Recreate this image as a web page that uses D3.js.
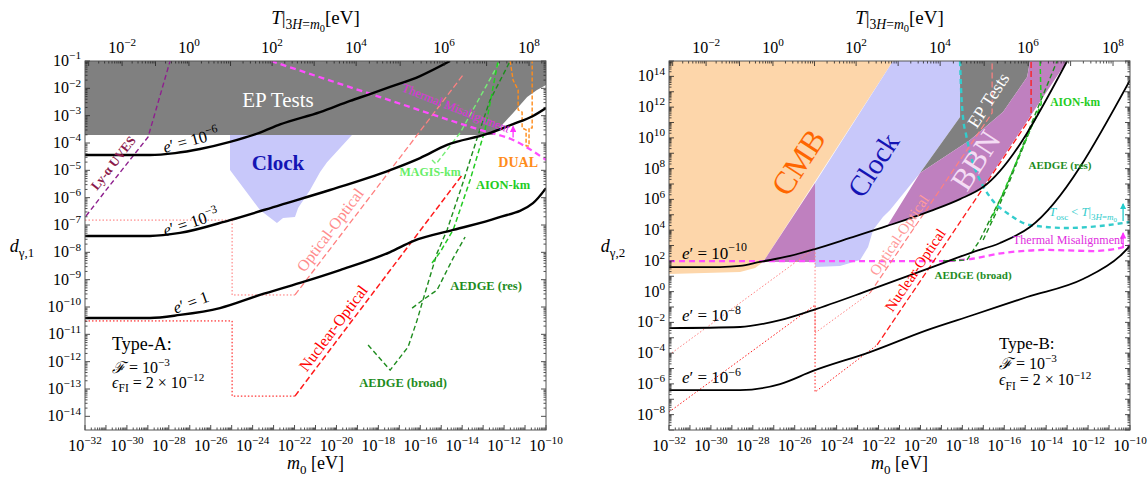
<!DOCTYPE html>
<html>
<head>
<meta charset="utf-8">
<script src="https://cdn.jsdelivr.net/npm/d3@7"></script>
<style>
  body { margin: 0; background: #fff; }
  text { font-family: "Liberation Serif", "DejaVu Serif", serif; }
</style>
</head>
<body>
<svg id="chart" width="1148" height="479"></svg>
<script>
// every point is [log10(m0 / eV), log10(d)]
const mTicks = d3.range(-32, -9);
const mLabels = d3.range(-32, -9, 2);
const topT = [-2, 0, 2, 4, 6, 8];                              // log10 T at labelled top ticks
const topM = [-30.23, -27.04, -23.07, -19.06, -14.86, -10.81]; // log10 m0 under those ticks

// ---- Type-A panel (d_gamma,1)
const aEP = [[-32,-1],[-10,-1],[-10,-1.88],[-10.43,-2.06],[-10.90,-2.32],[-11.57,-2.90],[-12.53,-3.71],[-32,-3.71]];
const aClock = [[-25.08,-3.71],[-19.26,-3.71],[-20.45,-4.70],[-20.78,-5.06],[-21.26,-5.72],[-21.83,-6.38],[-21.98,-6.71],[-22.55,-6.74],[-22.84,-6.93],[-23.65,-6.45],[-25.08,-4.99]];
const aE6 = [[-32,-4.44],[-28.90,-4.44],[-27.70,-4.37],[-26.51,-4.22],[-25.08,-3.96],[-23.65,-3.62],[-22.69,-3.32],[-20.78,-2.87],[-19.35,-2.46],[-18.40,-2.21],[-17.44,-1.95],[-16.01,-1.55],[-14.58,-1]];
const aE3 = [[-32,-7.40],[-28.90,-7.40],[-27.47,-7.29],[-25.08,-6.82],[-22.69,-6.27],[-20.31,-5.72],[-17.44,-4.99],[-16.01,-4.55],[-14.72,-4.07],[-12.81,-3.67],[-11.57,-3.31],[-10.62,-3.01],[-10,-2.72]];
const aE0 = [[-32,-10.40],[-28.90,-10.40],[-27.47,-10.29],[-25.56,-10.04],[-23.65,-9.56],[-21.74,-9.12],[-19.83,-8.65],[-17.44,-7.99],[-16.34,-7.59],[-14.43,-7.18],[-12.33,-6.74],[-10.62,-6.20],[-10,-5.65]];
const aLya = [[-31.95,-6.67],[-30.95,-5.68],[-28.99,-3.78],[-27.94,-1]];
const aThermal = [[-23.12,-1],[-17.92,-2.32],[-13.15,-3.52],[-11.57,-3.89],[-10,-4.62]];
const aOptDot = [[-32,-6.82],[-24.98,-6.82],[-24.98,-9.56],[-21.98,-9.56]];
const aOptDash = [[-21.98,-9.56],[-13.96,-1.51]];
const aNucDot = [[-32,-10.51],[-24.98,-10.51],[-24.98,-13.26],[-21.98,-13.26]];
const aNucDash = [[-21.98,-13.26],[-14.00,-5.17]];
const aMagis = [[-15.44,-4.62],[-15.25,-4.77],[-14.10,-3.63],[-12.19,-1]];
const aAion = [[-15.44,-8.39],[-15.05,-7.99],[-14.43,-7.18],[-13.62,-5.35],[-12.91,-3.52],[-12.29,-1]];
const aAedgeBroad = [[-18.49,-11.39],[-17.44,-12.31],[-16.58,-11.46],[-16.15,-10.48],[-15.87,-9.74],[-15.20,-8.03],[-14.72,-7.18],[-14.00,-5.54],[-13.24,-3.71],[-12.67,-2.43],[-11.71,-1]];
const aAedgeRes = [[-16.39,-10.04],[-15.87,-9.74],[-15.20,-9.38],[-14.43,-8.21],[-13.86,-7.44]];
const aDual = [[-11.71,-1],[-11.57,-1.70],[-11.33,-2.06],[-11.33,-2.79],[-11.14,-2.87],[-11.14,-3.45],[-10.95,-3.52],[-10.95,-4.11],[-10.81,-4.11],[-10.81,-3.45],[-10.66,-3.45],[-10.66,-1]];

// ---- Type-B panel (d_gamma,2)
const bCMB = [[-32,15],[-21.31,15],[-27.51,1.93],[-27.89,1.54],[-28.61,1.28],[-32,1.15]];
const bClock = [[-21.31,15],[-18.11,15],[-18.11,11.36],[-20.02,7.72],[-21.45,5.31],[-21.79,4.85],[-22.26,4.01],[-22.50,2.90],[-22.88,2.06],[-23.84,1.67],[-25.03,1.60],[-25.03,7.07]];
const bEP = [[-18.11,15],[-14.77,15],[-14.91,13.96],[-16.06,11.68],[-17.63,9.86],[-20.02,7.72],[-18.11,11.36]];
const bBBN = [[-21.59,4.27],[-20.02,7.72],[-17.63,9.86],[-16.06,11.68],[-14.91,13.96],[-14.77,15],[-13.00,15],[-17.01,6.80],[-18.11,6.02],[-19.54,5.24],[-21.59,4.27]];
const bBBNlow = [[-25.03,7.07],[-27.51,1.93],[-25.03,1.93]];
const bE10 = [[-32,1.60],[-29.57,1.60],[-28.61,1.67],[-27.66,1.93],[-26.22,2.32],[-25.03,2.77],[-23.36,3.49],[-21.59,4.27],[-19.54,5.24],[-18.11,6.02],[-17.01,6.80],[-13.00,15]];
const bE8 = [[-32,-2.37],[-28.61,-2.30],[-26.70,-1.85],[-25.13,-1.20],[-22.41,0.11],[-19.54,1.54],[-17.63,2.51],[-16.20,3.16],[-14.77,4.20],[-10,13.76]];
const bE6 = [[-32,-6.40],[-28.61,-6.40],[-26.70,-6.01],[-25.13,-5.16],[-22.41,-3.93],[-19.68,-2.50],[-17.49,-1.52],[-14.91,-0.35],[-12.24,0.82],[-10.47,2.32],[-10,2.97]];
const bThermal = [[-32,1.99],[-18.92,1.99],[-17.63,2.12],[-16.06,2.51],[-13.96,2.71],[-11.76,2.64],[-10.33,2.90],[-10,3.03]];
const bTosc = [[-18.11,15],[-18.06,13.11],[-17.97,11.36],[-17.82,10.19],[-17.54,8.56],[-17.16,7.26],[-16.68,6.15],[-15.72,4.98],[-14.77,4.33],[-13.00,4.14],[-11.43,4.27],[-10,4.53]];
const bOptDot = [[-32,-4.12],[-25.03,2.84],[-25.03,-2.69],[-22.41,-0.09]];
const bOptDash = [[-22.41,-0.09],[-16.58,11.62],[-16.58,15]];
const bNucDot = [[-32,-7.83],[-25.03,-0.87],[-25.03,-6.53],[-22.07,-3.47]];
const bNucDash = [[-22.07,-3.47],[-14.72,11.36],[-14.72,15]];
const bAion = [[-14.29,15],[-14.24,12.20],[-14.77,10.51],[-15.48,8.24],[-16.20,5.96],[-16.68,4.53]];
const bAedgeBroad = [[-18.92,1.99],[-17.78,2.06],[-17.16,3.36],[-16.53,5.11],[-15.96,6.61],[-15.39,8.56],[-14.77,10.71],[-14.05,13.11],[-13.48,15]];
const bAedgeRes = [[-17.01,3.36],[-16.44,4.98],[-15.82,6.93],[-15.25,8.89],[-14.67,10.84],[-14.29,11.81]];

const svg = d3.select("#chart");
const defs = svg.append("defs");
[["arrMag","#ff33ff"],["arrCyan","#22cccc"]].forEach(([id,c])=>{
  defs.append("marker").attr("id",id).attr("viewBox","0 0 6 6").attr("refX",5).attr("refY",3)
    .attr("markerWidth",5).attr("markerHeight",5).attr("orient","auto")
    .append("path").attr("d","M0,0L6,3L0,6z").attr("fill",c);
});

const KIND = {
  n:{dy:0,fs:1}, i:{dy:0,fs:1,it:1}, sup:{dy:-0.42,fs:0.7},
  sub:{dy:0.28,fs:0.72}, subi:{dy:0.28,fs:0.72,it:1}, sub2:{dy:0.42,fs:0.55}
};
function rich(txt, parts, size){
  let shift = 0;
  parts.forEach(p=>{
    const [t,k] = typeof p === "string" ? [p,"n"] : p;
    const K = KIND[k];
    const want = K.dy*size;
    const ts = txt.append("tspan").attr("dy", want-shift).text(t);
    shift = want;
    if (K.fs !== 1) ts.attr("font-size", size*K.fs);
    if (K.it) ts.attr("font-style","italic");
  });
  return txt;
}
function powParts(e){ return e < 0 ? ["10",["\u2212"+(-e),"sup"]] : ["10",[String(e),"sup"]]; }

function Panel(x0, x1, yDom, clipId){
  const X = d3.scaleLog().domain([1e-32,1e-10]).range([x0,x1]);
  const Y = d3.scaleLog().domain(yDom).range([430,61]);
  defs.append("clipPath").attr("id",clipId).append("rect")
    .attr("x",x0).attr("y",61).attr("width",x1-x0).attr("height",430-61);
  const g = svg.append("g");
  const plot = g.append("g").attr("clip-path",`url(#${clipId})`);
  const line = d3.line().x(p=>X(10**p[0])).y(p=>Y(10**p[1]));
  return {X,Y,g,plot,line};
}

function area(P, pts, fill){
  P.plot.append("path").attr("d",P.line(pts)+"Z").attr("fill",fill).attr("stroke","none");
}
function curve(P, pts, color, w, dash, smooth){
  const gen = smooth ? P.line.curve(d3.curveMonotoneX) : P.line.curve(d3.curveLinear);
  const s = P.plot.append("path").attr("d",gen(pts)).attr("fill","none")
    .attr("stroke",color).attr("stroke-width",w).attr("stroke-linejoin","round");
  P.line.curve(d3.curveLinear);
  if (dash) s.attr("stroke-dasharray",dash);
  return s;
}
function arrow(P, lm, ld0, ld1, color, id){
  P.plot.append("line").attr("x1",P.X(10**lm)).attr("x2",P.X(10**lm))
    .attr("y1",P.Y(10**ld0)).attr("y2",P.Y(10**ld1))
    .attr("stroke",color).attr("stroke-width",1.3).attr("marker-end",`url(#${id})`);
}
// at = centre of the text, or its baseline start when o.base is set
function label(P, at, parts, o){
  const x = P.X(10**at[0]), y = P.Y(10**at[1]);
  const t = P.g.append("text")
    .attr("transform",`translate(${x},${y}) rotate(${o.rot||0})`)
    .attr("y", o.base ? 0 : o.size*0.35)
    .attr("text-anchor", o.base ? "start" : "middle")
    .attr("font-size", o.size).attr("fill", o.color||"#000");
  if (o.bold) t.attr("font-weight","bold");
  rich(t, parts, o.size);
}

function axes(P, yMajor, yLabels, yName, yNameX){
  const {X,Y,g} = P;
  const [xa,xb] = X.range(), yb = 430, ya = 61;
  const tk = g.append("g").attr("stroke","#222").attr("stroke-width",0.8);
  const tick = (x1,y1,x2,y2)=>tk.append("line").attr("x1",x1).attr("y1",y1).attr("x2",x2).attr("y2",y2);
  const fs = 16;
  // bottom m0 axis
  mTicks.forEach(e=>{
    const x = X(10**e); tick(x,yb,x,yb-5);
    if (e < -10) d3.range(2,10).forEach(k=>{ const xm = X(k*10**e); tick(xm,yb,xm,yb-2.5); });
  });
  mLabels.forEach(e=>{
    rich(g.append("text").attr("x",X(10**e)).attr("y",yb+21).attr("text-anchor","middle").attr("font-size",fs), powParts(e), fs);
  });
  // left / right d axis
  const [d0,d1] = Y.domain();
  yMajor.forEach(e=>{
    const y = Y(10**e); tick(xa,y,xa+5,y); tick(xb,y,xb-5,y);
    d3.range(2,10).forEach(k=>{
      const v = k*10**e; if (v < d0 || v > d1) return;
      const ym = Y(v); tick(xa,ym,xa+2.5,ym); tick(xb,ym,xb-2.5,ym);
    });
  });
  yLabels.forEach(e=>{
    rich(g.append("text").attr("x",xa-4).attr("y",Y(10**e)+5).attr("text-anchor","end").attr("font-size",fs), powParts(e), fs);
  });
  // top T axis
  const tToM = d3.scaleLinear().domain(topT).range(topM);
  d3.range(-4,9).forEach(n=>{
    d3.range(1,10).forEach(k=>{
      const lm = tToM(n+Math.log10(k));
      if (lm < -32 || lm > -10) return;
      const x = X(10**lm); tick(x,ya,x,ya+(k===1?5:2.5));
    });
  });
  topT.forEach(t=>{
    rich(g.append("text").attr("x",X(10**tToM(t))).attr("y",ya-8).attr("text-anchor","middle").attr("font-size",fs), powParts(t), fs);
  });
  g.append("rect").attr("x",xa).attr("y",ya).attr("width",xb-xa).attr("height",yb-ya)
    .attr("fill","none").attr("stroke","#555").attr("stroke-width",1);
  // axis titles
  const cx = (xa+xb)/2;
  rich(g.append("text").attr("x",cx).attr("y",469).attr("text-anchor","middle").attr("font-size",18),
    [["m","i"],["0","sub"]," [eV]"], 18);
  rich(g.append("text").attr("x",cx).attr("y",24).attr("text-anchor","middle").attr("font-size",19),
    [["T","i"],"|",["3","sub"],["H","subi"],["=","sub"],["m","subi"],["0","sub2"],["[eV]","n"]], 19);
  rich(g.append("text").attr("x",yNameX).attr("y",252).attr("text-anchor","middle").attr("font-size",18),
    [["d","i"],[yName,"sub"]], 18);
}

const ep = p => [["e","i"],"\u2032 = 10",["\u2212"+p,"sup"]];

// ================= Type-A =================
const A = Panel(85, 546, [10**-14.5, 1e-1], "clipA");
area(A, aClock, "#c8c8fa");
area(A, aEP, "#808080");
curve(A, aOptDot, "#ff7070", 1, "1.5,2");
curve(A, aNucDot, "#ff0000", 1, "1.5,2");
curve(A, aOptDash, "#ff8080", 1.3, "6,3");
curve(A, aNucDash, "#ff1a1a", 1.5, "6,3");
curve(A, aLya, "#8e1f8e", 1.4, "5,3");
curve(A, aMagis, "#77ee77", 1.4, "5,3");
curve(A, aAedgeRes, "#1e8c1e", 1.4, "5,3");
curve(A, aAedgeBroad, "#1e8c1e", 1.4, "5,3");
curve(A, aAion, "#22cc22", 1.5, "5,3");
curve(A, aDual, "#ff8c1a", 1.4, "4,2");
curve(A, aThermal, "#ff4dff", 2.3, "6,4", true);
arrow(A, -11.57, -3.80, -3.40, "#ff33ff", "arrMag");
[aE6, aE3, aE0].forEach(c=>curve(A, c, "#000", 2.4, null, true));
axes(A, d3.range(-14,0), d3.range(-14,0), "\u03b3,1", 22);

label(A, [-22.79,-2.43], ["EP Tests"], {size:21, color:"#fff"});
label(A, [-22.79,-4.73], ["Clock"], {size:21, color:"#1414b4", bold:true});
label(A, [-26.95,-3.89], ep(6), {size:16.5, rot:-15});
label(A, [-26.95,-6.89], ep(3), {size:16.5, rot:-18});
label(A, [-26.95,-9.82], [["e","i"],"\u2032 = 1"], {size:16.5, rot:-20});
label(A, [-30.66,-4.73], ["Ly-\u03b1 UVES"], {size:13, rot:-52, color:"#8b1a4b", bold:true});
label(A, [-14.29,-2.72], ["Thermal Misalignment"], {size:12.5, rot:21.5, color:"#e02ee0"});
label(A, [-20.31,-7.18], ["Optical-Optical"], {size:16, rot:-53, color:"#ff8c8c"});
label(A, [-20.16,-10.77], ["Nuclear-Optical"], {size:16, rot:-53, color:"#ff0000"});
label(A, [-15.53,-5.06], ["MAGIS-km"], {size:12, color:"#66ee66", bold:true});
label(A, [-12.05,-5.54], ["AION-km"], {size:12.5, color:"#22cc22", bold:true});
label(A, [-11.33,-4.70], ["DUAL"], {size:14, color:"#ff8c1a", bold:true});
label(A, [-12.86,-9.23], ["AEDGE (res)"], {size:12.5, color:"#1e8c1e", bold:true});
label(A, [-16.82,-12.75], ["AEDGE (broad)"], {size:12.5, color:"#1e8c1e", bold:true});
label(A, [-30.71,-11.57], ["Type-A:"], {size:18, base:true});
label(A, [-30.71,-12.42], [["\u2131","i"]," = 10",["\u22123","sup"]], {size:16, base:true});
label(A, [-30.71,-12.96], [["\u03f5","i"],["FI","sub"]," = 2 \u00d7 10",["\u221212","sup"]], {size:16, base:true});

// ================= Type-B =================
const B = Panel(669, 1130, [1e-9, 1e15], "clipB");
area(B, bCMB, "#fdd6aa");
area(B, bClock, "#c8c8fa");
area(B, bEP, "#808080");
area(B, bBBN, "#bf80bf");
area(B, bBBNlow, "#bf80bf");
curve(B, bThermal, "#ff4dff", 2.3, "6,4", true);
curve(B, bOptDot, "#ff8080", 1, "1.5,2");
curve(B, bNucDot, "#ff1a1a", 1, "1.5,2");
curve(B, bOptDash, "#ff8080", 1.2, "6,3");
curve(B, bNucDash, "#ff1a1a", 1.3, "6,3");
curve(B, bAedgeBroad, "#1e8c1e", 1.4, "5,3");
curve(B, bAedgeRes, "#1e8c1e", 1.4, "5,3");
curve(B, bAion, "#22cc22", 1.5, "5,3");
curve(B, bTosc, "#33cccc", 2.4, "5,4", true);
arrow(B, -10.33, 2.90, 3.80, "#ff33ff", "arrMag");
arrow(B, -10.33, 4.60, 5.70, "#22cccc", "arrCyan");
[bE10, bE8, bE6].forEach(c=>curve(B, c, "#000", 1.8, null, true));
axes(B, d3.range(-9,16), d3.range(-8,15,2), "\u03b3,2", 613);

label(B, [-25.84,8.43], ["CMB"], {size:32, rot:-57, color:"#ff6600"});
label(B, [-22.26,8.24], ["Clock"], {size:29, rot:-57, color:"#1414b4"});
label(B, [-17.39,8.56], ["BBN"], {size:31, rot:-57, color:"#f4dcf4"});
label(B, [-16.77,12.46], ["EP Tests"], {size:18, rot:-57, color:"#fff"});
label(B, [-31.38,2.15], ep(10), {size:17, base:true});
label(B, [-31.38,-1.91], ep(8), {size:17, base:true});
label(B, [-31.38,-5.94], ep(6), {size:17, base:true});
label(B, [-21.02,3.68], ["Optical-Optical"], {size:15, rot:-56, color:"#ff9a9a"});
label(B, [-20.26,1.41], ["Nuclear-Optical"], {size:15, rot:-56, color:"#ff0000"});
label(B, [-12.62,12.33], ["AION-km"], {size:11.5, color:"#22cc22", bold:true});
label(B, [-13.34,8.24], ["AEDGE (res)"], {size:11, color:"#1e8c1e", bold:true});
label(B, [-17.49,1.08], ["AEDGE (broad)"], {size:11, color:"#1e8c1e", bold:true});
label(B, [-12.95,3.36], ["Thermal Misalignment"], {size:12, color:"#e02ee0"});
label(B, [-12.24,5.18], [["T","i"],["osc","sub"]," < ",["T","i"],"|",["3","sub"],["H","subi"],["=","sub"],["m","subi"],["0","sub2"]], {size:12.5, color:"#33cccc"});
label(B, [-16.25,-3.72], ["Type-B:"], {size:17, base:true});
label(B, [-16.25,-5.03], [["\u2131","i"]," = 10",["\u22123","sup"]], {size:16, base:true});
label(B, [-16.25,-6.10], [["\u03f5","i"],["FI","sub"]," = 2 \u00d7 10",["\u221212","sup"]], {size:16, base:true});
</script>
</body>
</html>
